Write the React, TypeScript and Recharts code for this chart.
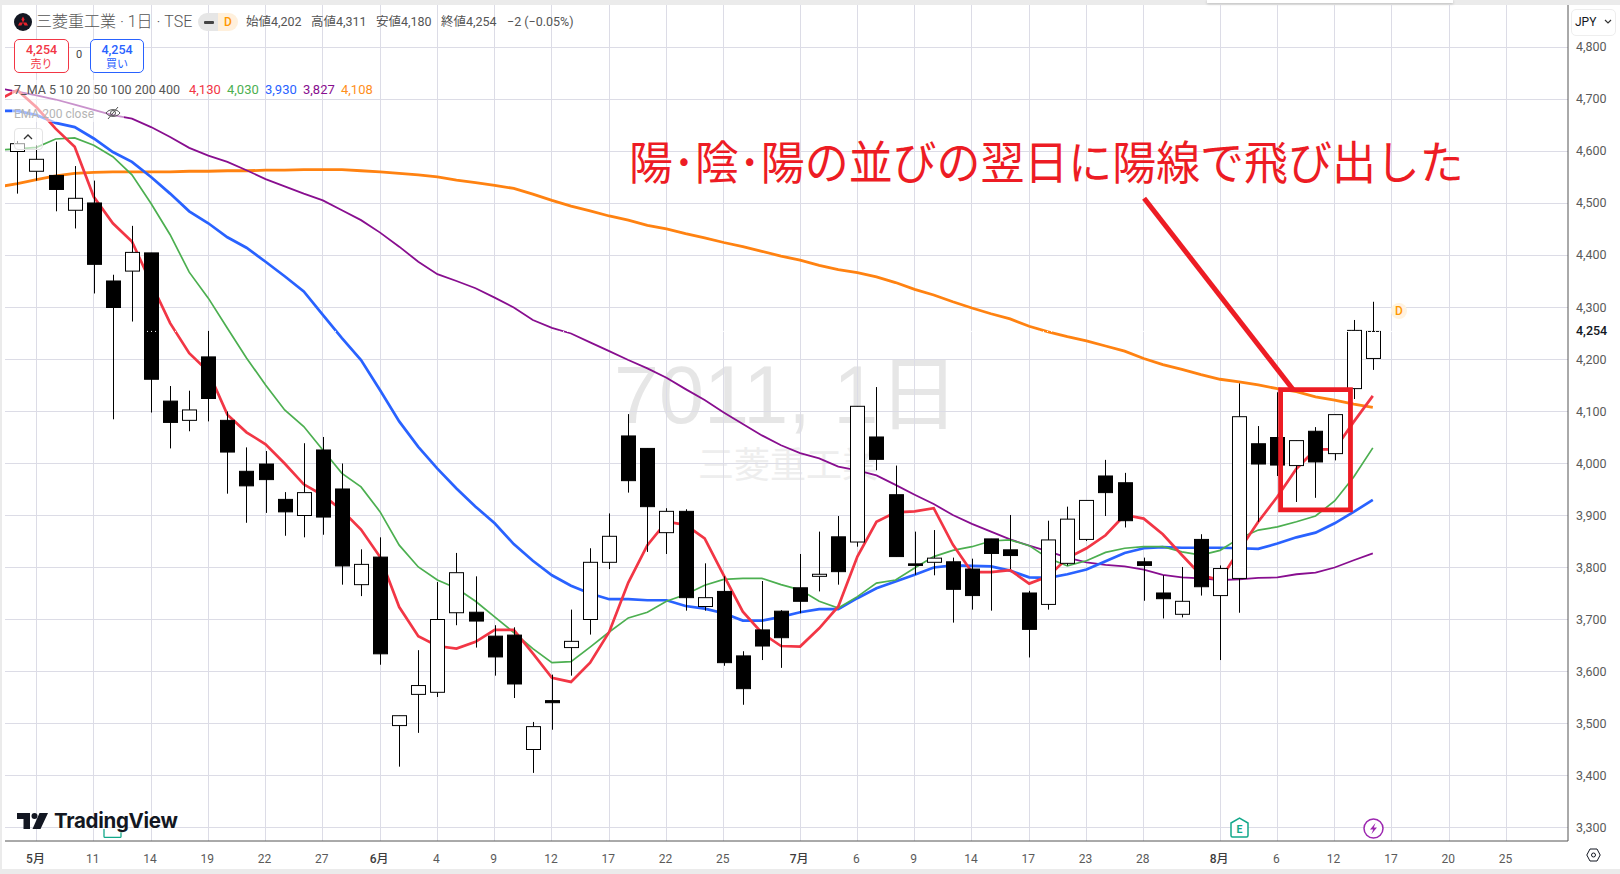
import React from 'react';
import {
  ComposedChart, Bar, Line, XAxis, YAxis, CartesianGrid, ReferenceArea, ReferenceLine,
} from 'recharts';

// OHLC, one entry per session (bar 0 .. bar 71)
const opens = [4600, 4562, 4554, 4487, 4501, 4351, 4370, 4405, 4120, 4083, 4205, 4083, 3985, 3999, 3931, 3900, 4026, 3951, 3767, 3820, 3496, 3556, 3560, 3713, 3714, 3668, 3670, 3450, 3544, 3646, 3700, 3810, 4053, 4029, 3867, 3908, 3725, 3754, 3630, 3680, 3716, 3761, 3783, 3859, 3849, 4051, 3940, 3807, 3810, 3811, 3797, 3855, 3834, 3751, 3729, 3808, 3854, 3976, 3963, 3811, 3751, 3710, 3854, 3746, 3779, 4038, 4050, 3996, 4062, 4019, 4144, 4202];
const highs = [4620, 4612, 4619, 4572, 4544, 4363, 4457, 4405, 4149, 4140, 4255, 4100, 4031, 4024, 3945, 4039, 4051, 4000, 3835, 3858, 3515, 3641, 3772, 3828, 3783, 3689, 3685, 3503, 3594, 3719, 3837, 3904, 4095, 4029, 3914, 3912, 3808, 3783, 3639, 3774, 3718, 3826, 3869, 3899, 4110, 4147, 3996, 3869, 3872, 3819, 3817, 3855, 3901, 3755, 3890, 3917, 3929, 4007, 3982, 3819, 3785, 3801, 3864, 3804, 4154, 4072, 4137, 4044, 4070, 4094, 4276, 4311];
const lows = [4519, 4544, 4485, 4452, 4327, 4085, 4273, 4098, 4029, 4062, 4081, 3942, 3886, 3905, 3861, 3858, 3863, 3767, 3745, 3613, 3417, 3482, 3551, 3689, 3646, 3592, 3549, 3405, 3488, 3592, 3671, 3797, 3944, 3830, 3826, 3717, 3717, 3611, 3536, 3622, 3607, 3712, 3754, 3767, 3840, 3987, 3821, 3786, 3785, 3694, 3719, 3717, 3797, 3627, 3719, 3804, 3851, 3899, 3877, 3736, 3702, 3704, 3746, 3622, 3713, 3888, 3976, 3926, 3934, 4006, 4124, 4180];
const closes = [4615, 4585, 4527, 4510, 4383, 4300, 4406, 4162, 4079, 4103, 4125, 4022, 3957, 3969, 3907, 3944, 3897, 3803, 3806, 3634, 3515, 3573, 3700, 3790, 3697, 3628, 3576, 3494, 3540, 3658, 3810, 3860, 3967, 3917, 3908, 3742, 3742, 3617, 3567, 3649, 3665, 3735, 3787, 3792, 4110, 4008, 3821, 3804, 3818, 3758, 3746, 3827, 3823, 3681, 3853, 3893, 3929, 3944, 3890, 3804, 3740, 3735, 3763, 3798, 4090, 3999, 3997, 4044, 4003, 4094, 4256, 4254];

// moving averages, one extra leading entry (bar -1) so the lines run off the left edge
const ma5 = [4699, 4718, 4685, 4644, 4609, 4513, 4462, 4427, 4347, 4270, 4212, 4177, 4094, 4060, 4037, 4000, 3960, 3939, 3910, 3873, 3820, 3724, 3668, 3649, 3644, 3657, 3680, 3680, 3635, 3588, 3580, 3617, 3676, 3771, 3843, 3888, 3882, 3856, 3785, 3715, 3674, 3649, 3648, 3683, 3725, 3821, 3888, 3906, 3908, 3914, 3844, 3791, 3791, 3795, 3769, 3783, 3818, 3837, 3862, 3901, 3894, 3864, 3824, 3785, 3776, 3833, 3888, 3936, 3990, 4027, 4027, 4080, 4130];
const ma10 = [4603, 4605, 4608, 4624, 4626, 4612, 4590, 4555, 4500, 4440, 4368, 4318, 4260, 4203, 4151, 4103, 4071, 4026, 3981, 3955, 3907, 3843, 3801, 3776, 3760, 3735, 3705, 3675, 3644, 3617, 3619, 3647, 3676, 3703, 3714, 3735, 3748, 3766, 3777, 3779, 3779, 3767, 3757, 3735, 3722, 3744, 3770, 3776, 3799, 3821, 3833, 3840, 3851, 3853, 3842, 3818, 3803, 3813, 3829, 3837, 3840, 3840, 3830, 3824, 3833, 3856, 3872, 3878, 3888, 3899, 3928, 3974, 4030];
const ma20 = [4678, 4678, 4670, 4655, 4647, 4625, 4599, 4580, 4551, 4519, 4485, 4462, 4435, 4415, 4388, 4360, 4331, 4286, 4241, 4199, 4141, 4081, 4032, 3990, 3952, 3917, 3885, 3845, 3813, 3785, 3765, 3750, 3739, 3739, 3737, 3737, 3726, 3721, 3712, 3698, 3698, 3705, 3714, 3720, 3720, 3741, 3760, 3773, 3786, 3800, 3804, 3803, 3802, 3794, 3781, 3780, 3787, 3796, 3812, 3828, 3837, 3839, 3838, 3838, 3838, 3837, 3836, 3846, 3858, 3867, 3885, 3907, 3930];
const ma50 = [4722, 4715, 4708, 4700, 4690, 4680, 4670, 4663, 4647, 4628, 4607, 4592, 4580, 4564, 4547, 4533, 4519, 4506, 4487, 4468, 4444, 4417, 4388, 4364, 4351, 4337, 4319, 4300, 4276, 4261, 4250, 4233, 4216, 4199, 4183, 4165, 4143, 4122, 4098, 4076, 4054, 4035, 4020, 4010, 3994, 3987, 3977, 3959, 3940, 3922, 3901, 3884, 3869, 3854, 3842, 3831, 3819, 3810, 3805, 3802, 3796, 3786, 3781, 3779, 3776, 3777, 3780, 3781, 3787, 3790, 3800, 3814, 3827];
const ema200 = [4532, 4538, 4546, 4553, 4558, 4560, 4561, 4561, 4561, 4561, 4562, 4562, 4563, 4563, 4564, 4564, 4565, 4565, 4565, 4563, 4561, 4558, 4555, 4551, 4545, 4540, 4535, 4529, 4518, 4506, 4495, 4486, 4476, 4468, 4458, 4451, 4442, 4434, 4425, 4417, 4408, 4399, 4391, 4381, 4373, 4367, 4359, 4348, 4335, 4324, 4311, 4299, 4288, 4278, 4264, 4253, 4244, 4236, 4226, 4216, 4202, 4190, 4181, 4171, 4162, 4157, 4151, 4144, 4138, 4128, 4122, 4114, 4108];

// axis ticks (bar number -> label)
const dateTicks = [1, 4, 7, 10, 13, 16, 19, 22, 25, 28, 31, 34, 37, 41, 44, 47, 50, 53, 56, 59, 63, 66, 69, 72, 75, 78];
const dateLabels = ['5月', '11', '14', '19', '22', '27', '6月', '4', '9', '12', '17', '22', '25', '7月', '6', '9', '14', '17', '23', '28', '8月', '6', '12', '17', '20', '25'];
const priceTicks = [3300, 3400, 3500, 3600, 3700, 3800, 3900, 4000, 4100, 4200, 4300, 4400, 4500, 4600, 4700, 4800];
const lastPrice = 4254;

const legendPeriods = '7_MA 5 10 20 50 100 200 400';
const legendValues = [
  { text: '4,130', color: '#f23645', left: 189 },
  { text: '4,030', color: '#4caf50', left: 227 },
  { text: '3,930', color: '#2962ff', left: 265 },
  { text: '3,827', color: '#880e8f', left: 303 },
  { text: '4,108', color: '#ff8f1c', left: 341 },
];
const ohlcLegend = [
  { text: '始値4,202', left: 246 },
  { text: '高値4,311', left: 311 },
  { text: '安値4,180', left: 376 },
  { text: '終値4,254', left: 441 },
  { text: '−2 (−0.05%)', left: 507 },
];

const rows = ma5.map((_, k) => ({
  bar: k - 1,
  open: opens[k - 1],
  high: highs[k - 1],
  low: lows[k - 1],
  close: closes[k - 1],
  range: k > 0 ? [lows[k - 1], highs[k - 1]] : null,
  ma5: ma5[k],
  ma10: ma10[k],
  ma20: ma20[k],
  ma50: ma50[k],
  ema200: ema200[k],
}));

const UI_FONT = 'Roboto, "Noto Sans CJK JP", sans-serif';
const ANNOTATION_RED = '#ed1c24';

const Candle = (props: any) => {
  const { x, y, width, height, payload } = props;
  if (!payload || payload.open == null || !height) return null;
  const { open, high, low, close } = payload;
  const cx = Math.floor(x + width / 2) + 0.5;
  const toY = (p: number) => y + ((high - p) / (high - low)) * height;
  const top = toY(Math.max(open, close));
  const bottom = toY(Math.min(open, close));
  const up = close >= open;
  return (
    <g>
      <line x1={cx} x2={cx} y1={y} y2={y + height} stroke="#000" strokeWidth={1} />
      <rect
        x={cx - 7}
        y={top}
        width={14}
        height={Math.max(bottom - top, 1)}
        fill={up ? '#fff' : '#000'}
        stroke="#000"
        strokeWidth={1}
      />
    </g>
  );
};

const DateTick = (props: any) => {
  const { x, y, payload } = props;
  const label = dateLabels[dateTicks.indexOf(payload.value)];
  const isMonth = label.endsWith('月');
  return (
    <text x={x - 1} y={y + 14} textAnchor="middle" fontSize={12} fontFamily={UI_FONT} fontWeight={isMonth ? 500 : 400} fill={isMonth ? '#3c3c3c' : '#5a5a5a'}>
      {label}
    </text>
  );
};

const PriceTick = (props: any) => {
  const { y, payload } = props;
  const isLast = payload.value === lastPrice;
  return (
    <text x={1576} y={y + 4} fontSize={12.5} fontFamily={UI_FONT} fontWeight={isLast ? 500 : 400} fill={isLast ? '#131722' : '#5a5a5a'}>
      {payload.value.toLocaleString('en-US')}
    </text>
  );
};

const abs = (left: number, top: number, extra: React.CSSProperties = {}): React.CSSProperties => ({
  position: 'absolute', left, top, whiteSpace: 'nowrap', ...extra,
});

const Header = () => (
  <>
    {/* symbol line */}
    <svg style={abs(14, 13)} width={18} height={18} viewBox="0 0 18 18">
      <circle cx={9} cy={9} r={9} fill="#131722" />
      <path d="M9 3.5 L10.6 6.5 L9 9.5 L7.4 6.5 Z M9 9.5 L12.4 9.5 L14 12.5 L10.6 12.5 Z M9 9.5 L7.4 12.5 L4 12.5 L5.6 9.5 Z" fill="#e8222c" />
    </svg>
    <div style={abs(36, 12, { fontSize: 16, lineHeight: '20px', color: '#555', fontFamily: UI_FONT, fontWeight: 300 })}>三菱重工業 · 1日 · TSE</div>
    <div style={abs(198, 13, { width: 20, height: 18, background: '#e6e6e6', borderRadius: '9px 0 0 9px' })} />
    <div style={abs(218, 13, { width: 20, height: 18, background: '#fff0dc', borderRadius: '0 9px 9px 0' })} />
    <div style={abs(204, 21, { width: 10, height: 3, background: '#444', borderRadius: 1 })} />
    <div style={abs(224, 14, { fontSize: 12, lineHeight: '16px', color: '#ff9800', fontFamily: UI_FONT, fontWeight: 500 })}>D</div>
    {ohlcLegend.map(item => (
      <div key={item.text} style={abs(item.left, 14, { fontSize: 12.5, lineHeight: '16px', color: '#555', fontFamily: UI_FONT })}>{item.text}</div>
    ))}

    {/* buy / sell */}
    {[
      { left: 14, width: 55, color: '#f23645', label: '売り' },
      { left: 90, width: 54, color: '#2962ff', label: '買い' },
    ].map(b => (
      <div
        key={b.label}
        style={abs(b.left, 39, {
          width: b.width, height: 34, border: `1px solid ${b.color}`, borderRadius: 5, color: b.color, textAlign: 'center',
          fontFamily: UI_FONT, fontSize: 12.5, lineHeight: '15px', paddingTop: 2, boxSizing: 'border-box', background: '#fff',
        })}
      >
        <div style={{ fontWeight: 500 }}>4,254</div>
        <div style={{ fontSize: 11 }}>{b.label}</div>
      </div>
    ))}
    <div style={abs(76, 48, { fontSize: 11, lineHeight: '14px', color: '#444', fontFamily: UI_FONT })}>0</div>

    {/* indicator legend, the lines show through faintly */}
    <div style={abs(12, 80, { width: 112, height: 42, background: 'rgba(255,255,255,0.55)' })} />
    <div style={abs(14, 82, { fontSize: 12.5, lineHeight: '16px', color: '#555', fontFamily: UI_FONT })}>{legendPeriods}</div>
    {legendValues.map(v => (
      <div key={v.left} style={abs(v.left, 82, { fontSize: 13, lineHeight: '16px', color: v.color, fontFamily: UI_FONT })}>{v.text}</div>
    ))}
    <div style={abs(14, 106, { fontSize: 12, lineHeight: '16px', color: '#b4b4b4', fontFamily: UI_FONT })}>EMA 200 close</div>
    <svg style={abs(105, 105)} width={16} height={16} viewBox="0 0 16 16" fill="none" stroke="#555" strokeWidth={1}>
      <path d="M1 8 C4 3.5 12 3.5 15 8 C12 12.5 4 12.5 1 8 Z" />
      <circle cx={8} cy={8} r={2.5} />
      <path d="M3 14 L13 2" />
    </svg>
    <div style={abs(14, 128, { width: 27, height: 20, background: 'rgba(255,255,255,0.6)', border: '1px solid #e4e4e4', borderRadius: 4 })} />
    <svg style={abs(23, 134)} width={10} height={6} viewBox="0 0 10 6" fill="none" stroke="#333" strokeWidth={1.3}>
      <path d="M1 5 L5 1 L9 5" />
    </svg>

    {/* currency button */}
    <div style={abs(1571, 9, { width: 43, height: 25, border: '1px solid #eee', borderRadius: 5, background: '#fff' })} />
    <div style={abs(1575, 14, { fontSize: 12, lineHeight: '16px', color: '#131722', fontFamily: UI_FONT })}>JPY</div>
    <svg style={abs(1604, 19)} width={8} height={5} viewBox="0 0 8 5" fill="none" stroke="#333" strokeWidth={1.2}>
      <path d="M1 1 L4 4 L7 1" />
    </svg>
  </>
);

const Footer = () => (
  <>
    {/* hidden earnings flag behind the logo */}
    <svg style={abs(103, 829)} width={20} height={9} viewBox="0 0 20 9" fill="none" stroke="#13a88a" strokeWidth={1.3}>
      <path d="M1 0 V7.5 Q1 8.4 2 8.4 H17 Q18 8.4 18 7.5 V0" />
    </svg>
    {/* TradingView mark */}
    <svg style={abs(17, 812)} width={32} height={18} viewBox="0 0 32 18" fill="#131722">
      <path d="M0 1 H13 V17 H6.5 V7 H0 Z" />
      <circle cx={17.5} cy={4} r={3} />
      <path d="M22.5 1 H31 L23.5 17 H15.5 Z" />
    </svg>
    <div style={abs(54, 808, { fontSize: 20.5, lineHeight: '26px', fontWeight: 700, color: '#131722', fontFamily: 'Inter, sans-serif', letterSpacing: -0.3, textShadow: '0 0 2px #fff' })}>
      TradingView
    </div>

    {/* earnings */}
    <svg style={abs(1230, 817)} width={19} height={21} viewBox="0 0 19 21" fill="#fff" stroke="#13a88a" strokeWidth={1.5}>
      <path d="M1 6 L9.5 1 L18 6 V18.5 Q18 20 16.5 20 H2.5 Q1 20 1 18.5 Z" />
      <text x={9.5} y={15.5} textAnchor="middle" fontSize={10.5} fontWeight={700} fill="#13a88a" stroke="none" fontFamily={UI_FONT}>E</text>
    </svg>
    {/* dividend / split flash */}
    <svg style={abs(1363, 818)} width={21} height={21} viewBox="0 0 21 21" fill="#fff" stroke="#9c27b0" strokeWidth={1.5}>
      <circle cx={10.5} cy={10.5} r={9.5} />
      <path d="M12.5 5 L7 11.5 H10.2 L8.5 16 L14 9.5 H10.8 Z" fill="#9c27b0" stroke="none" />
    </svg>
    {/* settings */}
    <svg style={abs(1586, 848)} width={15} height={14} viewBox="0 0 15 14" fill="none" stroke="#131722" strokeWidth={1}>
      <path d="M0.8 7 L4 1 H11 L14.2 7 L11 13 H4 Z" />
      <circle cx={7.5} cy={7} r={2} />
    </svg>
    {/* last bar marker */}
    <div style={abs(1391, 303, { width: 16, height: 16, borderRadius: 8, background: '#fff3e0', color: '#ff9800', fontSize: 12, fontWeight: 500, lineHeight: '16px', textAlign: 'center', fontFamily: UI_FONT })}>D</div>
  </>
);

export default function App() {
  return (
    <div style={{ position: 'absolute', left: 0, top: 0, width: 1620, height: 874, background: '#ebebeb', overflow: 'hidden' }}>
      <div style={abs(2, 5, { width: 1618, height: 864, background: '#fff' })} />
      {/* top toolbar edge */}
      <div style={abs(1207, 0, { width: 246, height: 3, background: '#fff', boxShadow: '0 1px 3px rgba(0,0,0,0.2)' })} />

      {/* watermark sits under the chart */}
      <div style={abs(614, 345, { fontSize: 81, color: '#e6e6e6', fontFamily: '"Liberation Sans", "Noto Sans CJK JP", sans-serif', lineHeight: '100px' })}>7011, 1日</div>
      <div style={abs(698, 440, { fontSize: 36, color: '#eeeeee', fontFamily: '"Noto Sans CJK JP", sans-serif', lineHeight: '44px' })}>三菱重工業</div>

      <div style={{ position: 'absolute', left: 0, top: 0 }}>
        <ComposedChart width={1620} height={874} data={rows} margin={{ top: 5, right: 0, bottom: 0, left: 5 }}>
          <CartesianGrid
            stroke="#dcdce6"
            strokeWidth={1}
            shapeRendering="crispEdges"
            horizontalValues={priceTicks}
            verticalValues={dateTicks}
          />
          <XAxis
            dataKey="bar"
            type="number"
            domain={[-0.65, 81.225]}
            allowDataOverflow
            ticks={dateTicks}
            interval={0}
            tick={<DateTick />}
            tickLine={false}
            axisLine={{ stroke: '#555', strokeWidth: 1 }}
            height={33}
          />
          <YAxis
            orientation="right"
            type="number"
            domain={[3274.04, 4881.73]}
            allowDataOverflow
            ticks={[...priceTicks, lastPrice]}
            interval={0}
            tick={<PriceTick />}
            tickLine={false}
            axisLine={{ stroke: '#555', strokeWidth: 1 }}
            width={52}
          />
          <Line dataKey="ema200" stroke="#ff8211" strokeWidth={2.8} dot={false} activeDot={false} isAnimationActive={false} />
          <Line dataKey="ma50" stroke="#880e8f" strokeWidth={1.8} dot={false} activeDot={false} isAnimationActive={false} />
          <Line dataKey="ma20" stroke="#2962ff" strokeWidth={2.7} dot={false} activeDot={false} isAnimationActive={false} />
          <Line dataKey="ma10" stroke="#4caf50" strokeWidth={1.7} dot={false} activeDot={false} isAnimationActive={false} />
          <Line dataKey="ma5" stroke="#f23645" strokeWidth={2.7} dot={false} activeDot={false} isAnimationActive={false} />
          <Bar dataKey="range" barSize={14} shape={<Candle />} isAnimationActive={false} zIndex={450} />
          <ReferenceLine y={lastPrice} stroke="#fff" strokeDasharray="1 3" zIndex={460} />
          <ReferenceArea x1={66.17} x2={69.83} y1={3911} y2={4142} fill="none" stroke={ANNOTATION_RED} strokeWidth={4.8} fillOpacity={0} zIndex={500} />
          <ReferenceLine
            segment={[{ x: 59.02, y: 4510 }, { x: 66.85, y: 4141 }]}
            stroke={ANNOTATION_RED}
            strokeWidth={5}
            zIndex={500}
          />
        </ComposedChart>
      </div>

      <Header />
      <Footer />

      <div
        style={abs(629, 131, {
          fontSize: 46, color: ANNOTATION_RED, fontFamily: '"Noto Sans CJK JP", sans-serif', lineHeight: '56px', fontWeight: 400,
          transform: 'scaleX(0.955)', transformOrigin: 'left center',
        })}
      >
        陽･陰･陽の並びの翌日に陽線で飛び出した
      </div>
    </div>
  );
}
